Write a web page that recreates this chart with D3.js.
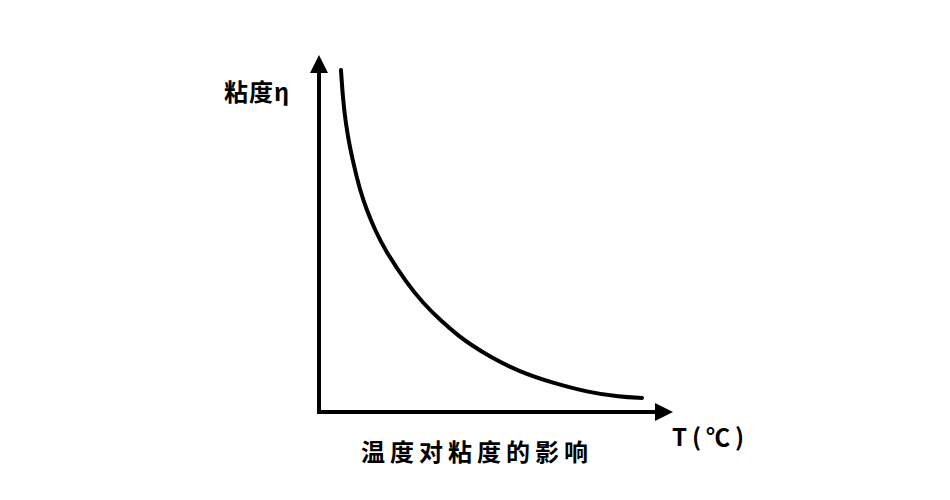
<!DOCTYPE html>
<html><head><meta charset="utf-8">
<script src="https://cdn.jsdelivr.net/npm/d3@7"></script>
<style>body{margin:0;background:#fff}svg{display:block}</style>
</head><body>
<script>
const temps = [6.21, 6.78, 7.63, 8.76, 10.17, 11.58, 13.47, 15.82, 18.64, 24.77, 29.38, 34.18, 39.83, 42.66, 48.31, 56.78, 66.10, 75.71, 85.03, 91.24];
const viscosity = [95.80, 87.39, 80.39, 73.95, 67.79, 62.18, 56.58, 50.98, 45.38, 36.13, 30.53, 25.77, 21.01, 19.05, 15.41, 11.20, 8.12, 5.60, 4.20, 3.92];
const yLabel = "粘度η";
const xLabel = "T(℃)";
const title = "温度对粘度的影响";

const W = 950, H = 500;
const svg = d3.select("body").append("svg").attr("width", W).attr("height", H);
const x = d3.scaleLinear().domain([0, 100]).range([319, 673]);
const y = d3.scaleLinear().domain([0, 100]).range([412, 55]);

// axes
svg.append("line").attr("x1", x(0)).attr("y1", y(0)).attr("x2", x(0)).attr("y2", y(100) + 14)
  .attr("stroke", "#000").attr("stroke-width", 4);
svg.append("line").attr("x1", x(0) - 2).attr("y1", y(0)).attr("x2", x(100) - 14).attr("y2", y(0))
  .attr("stroke", "#000").attr("stroke-width", 4);
svg.append("path").attr("d", `M${x(0)},${y(100)} L${x(0)-9},${y(100)+18} L${x(0)+9},${y(100)+18} Z`).attr("fill", "#000");
svg.append("path").attr("d", `M${x(100)},${y(0)} L${x(100)-18},${y(0)-9} L${x(100)-18},${y(0)+9} Z`).attr("fill", "#000");

// curve
const pts = temps.map((t, i) => [t, viscosity[i]]);
svg.append("path").datum(pts)
  .attr("d", d3.line().x(d => x(d[0])).y(d => y(d[1])).curve(d3.curveBasis))
  .attr("fill", "none").attr("stroke", "#000").attr("stroke-width", 4).attr("stroke-linecap", "round");

const font = "'Noto Sans CJK SC', 'Noto Sans', sans-serif";
svg.append("text").text(yLabel).attr("x", 224).attr("y", 101)
  .attr("font-family", font).attr("font-weight", "bold").attr("font-size", 24).attr("letter-spacing", 1).attr("fill", "#000");
svg.append("text").text(xLabel).attr("x", 672).attr("y", 446)
  .attr("font-family", font).attr("font-weight", "bold").attr("font-size", 24).attr("letter-spacing", 5).attr("fill", "#000");
svg.append("text").text(title).attr("x", 361).attr("y", 461)
  .attr("font-family", font).attr("font-weight", "bold").attr("font-size", 24).attr("letter-spacing", 5).attr("fill", "#000");
</script>
</body></html>
